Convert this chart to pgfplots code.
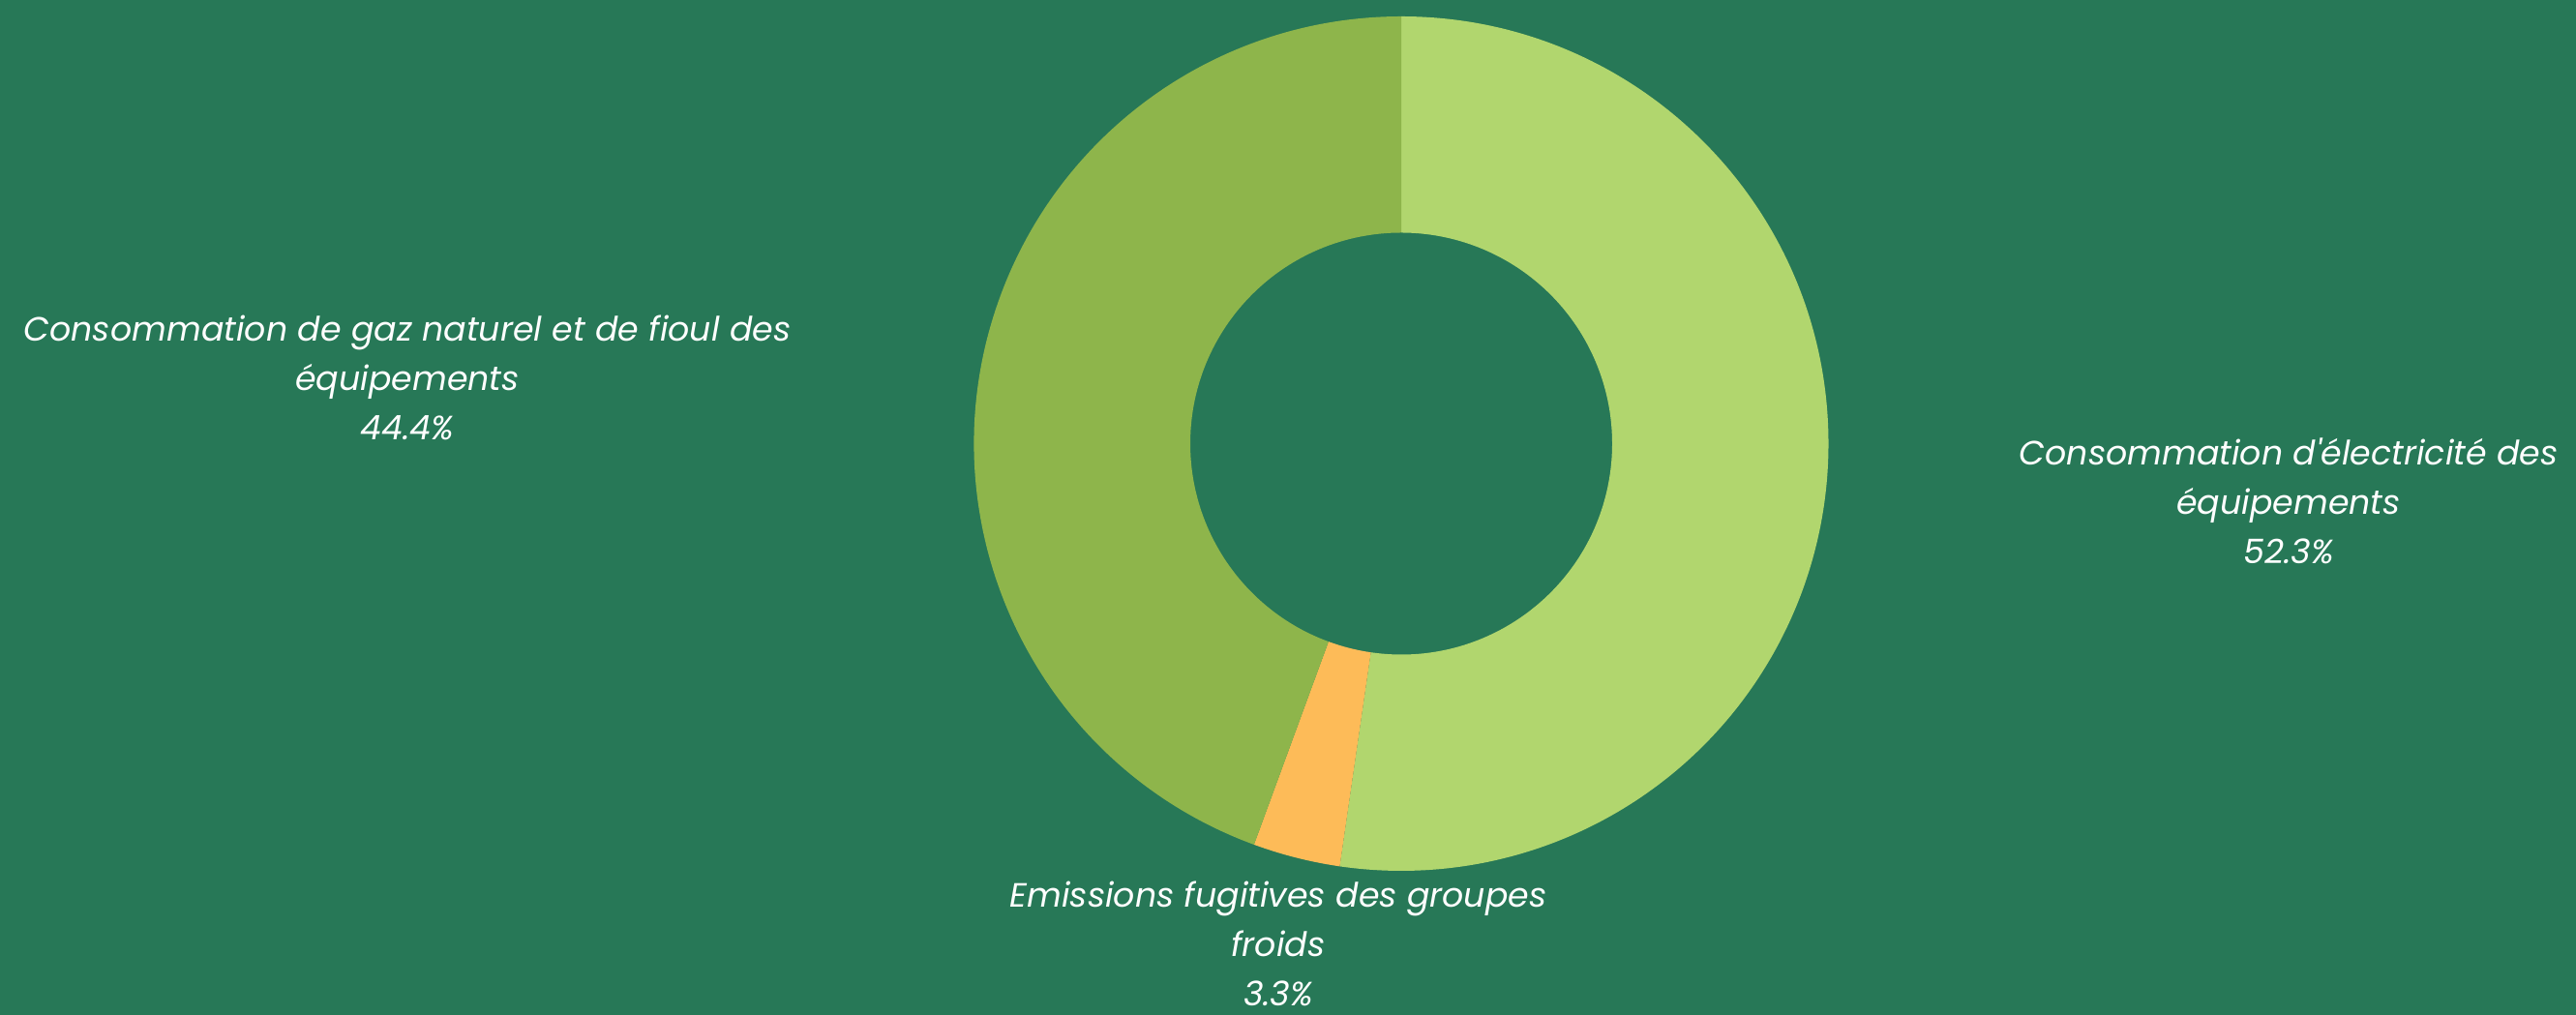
\documentclass[border=0pt]{standalone}
\usepackage{pgfplots}
\pgfplotsset{compat=1.18}
\usepackage{pgfplotstable}
\usepackage{fontspec}
\setmainfont{Poppins}
\usetikzlibrary{calc}
\definecolor{bg}{RGB}{39,120,87}
\definecolor{elec}{RGB}{177,214,110}
\definecolor{froid}{RGB}{253,187,88}
\definecolor{gaz}{RGB}{142,181,75}

% share of each source (%), drawn clockwise from the top
\pgfplotstableread{
name value col
elec 52.3 elec
froid 3.3 froid
gaz 44.4 gaz
}\slices

\begin{document}
\begin{tikzpicture}
\begin{axis}[
    hide axis,
    scale only axis,
    width=26.62cm, height=10.49cm,
    xmin=0, xmax=2662,
    ymin=0, ymax=1049,
    clip=false,
]
\fill[bg] (axis cs:0,0) rectangle (axis cs:2662,1049);

\pgfplotstablegetrowsof{\slices}
\pgfmathtruncatemacro\nrows{\pgfplotsretval-1}
\def\cum{0}
\pgfplotsforeachungrouped \i in {0,...,\nrows}{%
  \pgfplotstablegetelem{\i}{value}\of{\slices}\let\val\pgfplotsretval
  \pgfplotstablegetelem{\i}{col}\of{\slices}\let\slicecol\pgfplotsretval
  \pgfmathsetmacro\aone{90-3.6*\cum}
  \pgfmathsetmacro\atwo{90-3.6*(\cum+\val)}
  \edef\temp{\noexpand\fill[\slicecol]
    ($(axis cs:1448,590.5)+(\aone:4.415cm)$)
    arc[start angle=\aone, end angle=\atwo, radius=4.415cm]
    -- ($(axis cs:1448,590.5)+(\atwo:2.18cm)$)
    arc[start angle=\atwo, end angle=\aone, radius=2.18cm] -- cycle;}
  \temp
  \pgfmathsetmacro\cum{\cum+\val}
}

\tikzset{lbl/.style={align=center, text=white,
    font=\fontsize{9.9}{14.5}\selectfont\itshape}}
\node[lbl] at (axis cs:421,659)
  {Consommation de gaz naturel et de fioul des\\équipements\\44.4\%};
\node[lbl] at (axis cs:2365,531)
  {Consommation d\textquotesingle électricité des\\équipements\\52.3\%};
\node[lbl] at (axis cs:1321,74)
  {Emissions fugitives des groupes\\froids\\3.3\%};
\end{axis}
\pgfresetboundingbox
\path (0,0) rectangle (26.62cm,10.49cm);
\end{tikzpicture}
\end{document}
